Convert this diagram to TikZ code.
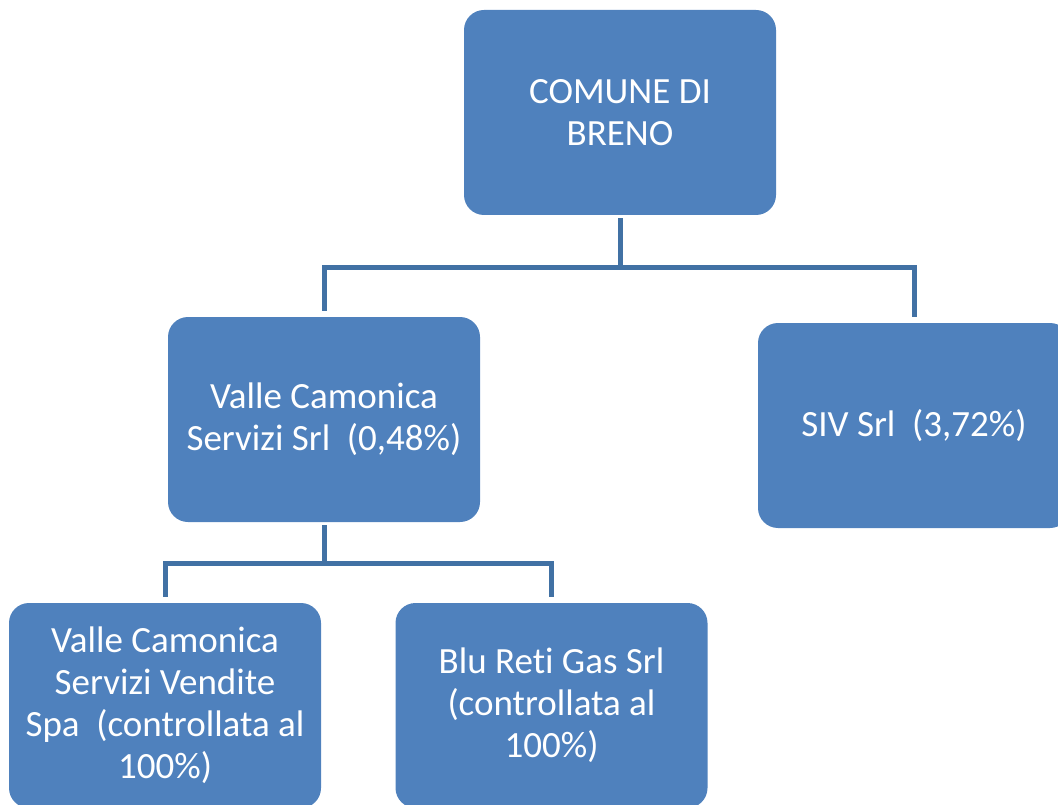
\documentclass[tikz,border=0pt]{standalone}
\usepackage{fontspec}
\setmainfont[Ligatures=NoCommon]{Carlito}
\usepackage{tikz}
\usetikzlibrary{positioning}
\definecolor{boxblue}{RGB}{79,129,189}
\definecolor{lineblue}{RGB}{65,113,164}
\tikzset{
	x=1pt, y=1pt,
	entity/.style={fill=boxblue, rounded corners=20pt, minimum width=312pt,
		minimum height=205pt, text=white, align=center,
		font=\fontsize{37}{42}\selectfont, inner sep=0pt},
	link/.style={draw=lineblue, line width=5pt, shorten <=3pt, shorten >=6pt},
}
\begin{document}
\begin{tikzpicture}
      \useasboundingbox (0,0) rectangle (1058,-805);
      \node[entity] (comune) at (620,-112.5) {COMUNE DI\\BRENO};
      \node[entity] (vcs)    at (324,-419.5) {Valle Camonica\\Servizi Srl~ (0,48\%)};
      \node[entity] (siv)    at (914,-425.5) {SIV Srl~ (3,72\%)};
      \node[entity] (vcsv)   at (165,-705.5) {Valle Camonica\\Servizi Vendite\\Spa~ (controllata al\\100\%)};
      \node[entity] (blu)    at (551.5,-705.5) {Blu Reti Gas Srl\\(controllata al\\100\%)};

      \draw[link] (comune.south) -- ++(0,-52) -| (vcs.north);
      \draw[link] (comune.south) -- ++(0,-52) -| (siv.north);
      \draw[link] (vcs.south) -- ++(0,-41) -| (vcsv.north);
      \draw[link] (vcs.south) -- ++(0,-41) -| (blu.north);
\end{tikzpicture}
\end{document}
